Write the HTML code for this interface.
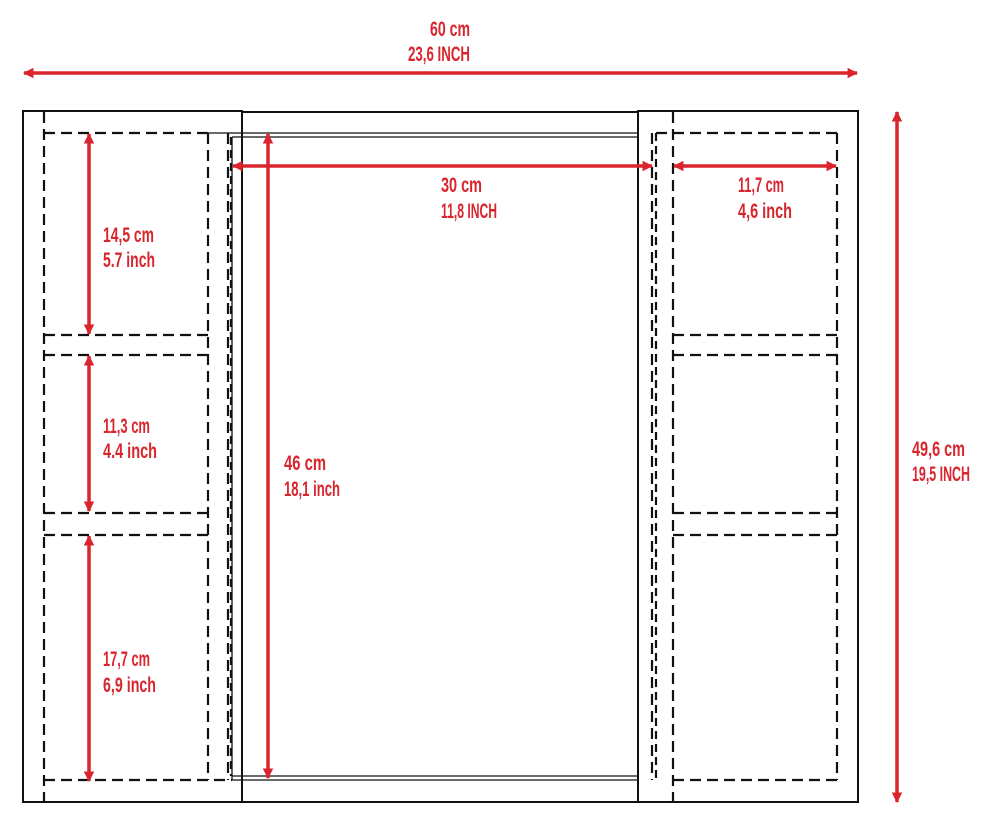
<!DOCTYPE html>
<html><head><meta charset="utf-8"><style>
html,body{margin:0;padding:0;background:#fff;}
svg{display:block;}
text{font-family:"Liberation Sans Narrow","Liberation Sans",sans-serif;font-size:21px;font-weight:bold;fill:#d9262e;}
</style></head><body>
<svg width="990" height="824" viewBox="0 0 990 824" xmlns="http://www.w3.org/2000/svg">
<defs>
<marker id="a" viewBox="0 0 10 10" refX="9" refY="5" markerWidth="3" markerHeight="3" orient="auto-start-reverse">
<path d="M0,0 L10,5 L0,10 z" fill="#d9262e"/></marker>
</defs>
<g fill="none" stroke="#111" stroke-width="2">
<line x1="242" y1="112" x2="638" y2="112"/>
<line x1="242" y1="802" x2="638" y2="802"/>
<rect x="23" y="111" width="219" height="691"/>
<rect x="638" y="111" width="220" height="691"/>
<g stroke-width="1.3">
<line x1="208" y1="133" x2="638" y2="133"/>
<line x1="232" y1="137" x2="638" y2="137"/>
<line x1="232" y1="776" x2="638" y2="776"/>
<line x1="232" y1="780" x2="638" y2="780"/>
<line x1="232" y1="137" x2="232" y2="780"/>
</g>
</g>
<g fill="none" stroke="#111" stroke-width="2.2" stroke-dasharray="11,6">
<line x1="44" y1="112" x2="44" y2="802"/>
<line x1="44" y1="133" x2="208" y2="133"/>
<line x1="44" y1="335" x2="208" y2="335"/>
<line x1="44" y1="355" x2="208" y2="355"/>
<line x1="44" y1="513" x2="208" y2="513"/>
<line x1="44" y1="535" x2="208" y2="535"/>
<line x1="44" y1="780" x2="232" y2="780"/>
<line x1="208" y1="133" x2="208" y2="780"/>
<line x1="228" y1="133" x2="228" y2="780"/>
<line x1="231" y1="137" x2="231" y2="776" stroke-dasharray="8,5"/>
<line x1="652" y1="133" x2="652" y2="780"/>
<line x1="656" y1="133" x2="656" y2="780" stroke-dasharray="8,5"/>
<line x1="673" y1="112" x2="673" y2="802"/>
<line x1="656" y1="133" x2="837" y2="133"/>
<line x1="673" y1="335" x2="837" y2="335"/>
<line x1="673" y1="355" x2="837" y2="355"/>
<line x1="673" y1="513" x2="837" y2="513"/>
<line x1="673" y1="535" x2="837" y2="535"/>
<line x1="673" y1="780" x2="837" y2="780"/>
<line x1="837" y1="133" x2="837" y2="780"/>
</g>
<g stroke="#d9262e" stroke-width="3.5" marker-start="url(#a)" marker-end="url(#a)">
<line x1="24" y1="73" x2="857" y2="73"/>
<line x1="897" y1="112" x2="897" y2="802"/>
<line x1="89" y1="134" x2="89" y2="334"/>
<line x1="89" y1="356" x2="89" y2="511"/>
<line x1="89" y1="536" x2="89" y2="781"/>
<line x1="268" y1="134" x2="268" y2="778"/>
<line x1="233" y1="166" x2="652" y2="166"/>
<line x1="674" y1="166" x2="836" y2="166"/>
</g>
<text x="430" y="36" textLength="40" lengthAdjust="spacingAndGlyphs">60 cm</text>
<text x="408" y="61" textLength="62" lengthAdjust="spacingAndGlyphs">23,6 INCH</text>
<text x="441" y="192" textLength="41" lengthAdjust="spacingAndGlyphs">30 cm</text>
<text x="441" y="218" textLength="56" lengthAdjust="spacingAndGlyphs">11,8 INCH</text>
<text x="738" y="192" textLength="46" lengthAdjust="spacingAndGlyphs">11,7 cm</text>
<text x="738" y="218" textLength="54" lengthAdjust="spacingAndGlyphs">4,6 inch</text>
<text x="103" y="242" textLength="51" lengthAdjust="spacingAndGlyphs">14,5 cm</text>
<text x="103" y="267" textLength="52" lengthAdjust="spacingAndGlyphs">5.7 inch</text>
<text x="103" y="433" textLength="47" lengthAdjust="spacingAndGlyphs">11,3 cm</text>
<text x="103" y="458" textLength="54" lengthAdjust="spacingAndGlyphs">4.4 inch</text>
<text x="103" y="666" textLength="47" lengthAdjust="spacingAndGlyphs">17,7 cm</text>
<text x="103" y="692" textLength="53" lengthAdjust="spacingAndGlyphs">6,9 inch</text>
<text x="284" y="470" textLength="42" lengthAdjust="spacingAndGlyphs">46 cm</text>
<text x="284" y="496" textLength="56" lengthAdjust="spacingAndGlyphs">18,1 inch</text>
<text x="912" y="456" textLength="53" lengthAdjust="spacingAndGlyphs">49,6 cm</text>
<text x="912" y="481" textLength="58" lengthAdjust="spacingAndGlyphs">19,5 INCH</text>
</svg>
</body></html>
